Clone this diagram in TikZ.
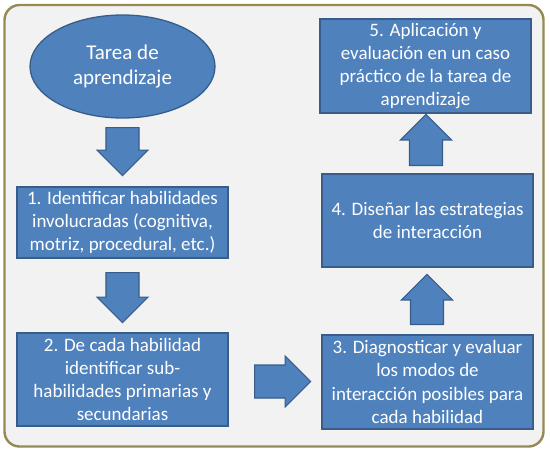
\documentclass[tikz,border=0pt]{standalone}
\usepackage{fontspec}
\setmainfont{Carlito}
\usetikzlibrary{shapes.geometric,shapes.arrows,shadows}
\definecolor{boxblue}{HTML}{4F81BD}
\definecolor{boxedge}{HTML}{385D8A}
\definecolor{frameedge}{HTML}{948A54}
\definecolor{framefill}{HTML}{F2F2F2}
\begin{document}
\begin{tikzpicture}[x=1pt,y=-1pt,
  stepbox/.style={rectangle, draw=boxedge, line width=1.3pt, fill=boxblue,
    text=white, align=center, inner sep=0pt, minimum width=211pt,
    font=\fontsize{19}{23.2}\selectfont,
    drop shadow={shadow xshift=1.2pt, shadow yshift=-1.2pt, opacity=0.25}},
  blockarrow/.style={single arrow, draw=boxedge, line width=1.1pt, fill=boxblue,
    inner xsep=0pt, inner ysep=12.5pt, minimum width=51pt, anchor=tail,
    single arrow tip angle=90}]
\useasboundingbox (0,0) rectangle (550,451);
\fill[white] (0,0) rectangle (550,451);
% outer frame
\draw[frameedge, line width=2.4pt, fill=framefill, rounded corners=15pt]
  (4.5,5) rectangle (543.5,446.5);
% left column
\node[ellipse, draw=boxedge, line width=1.3pt, fill=boxblue, text=white,
  align=center, inner sep=0pt, minimum width=185pt, minimum height=103pt,
  font=\fontsize{21}{25.6}\selectfont] (tarea) at (122.5,66.5)
  {Tarea de\\aprendizaje};
\node[stepbox, minimum height=71pt] (b1) at (122.5,222.5)
  {1. Identificar habilidades\\involucradas (cognitiva,\\motriz, procedural, etc.)};
\node[stepbox, minimum height=93pt] (b2) at (122.5,379.5)
  {2. De cada habilidad\\identificar sub-\\habilidades primarias y\\secundarias};
% right column
\node[stepbox, minimum height=94pt] (b3) at (427.5,382)
  {3. Diagnosticar y evaluar\\los modos de\\interacción posibles para\\cada habilidad};
\node[stepbox, minimum height=93pt] (b4) at (427.5,220.5)
  {4. Diseñar las estrategias\\de interacción};
\node[stepbox, minimum height=94pt] (b5) at (425.5,66)
  {5. Aplicación y\\evaluación en un caso\\práctico de la tarea de\\aprendizaje};
% block arrows
\node[blockarrow, rotate=-90, minimum height=48pt] (a1) at (122.5,127) {};
\node[blockarrow, rotate=-90, minimum height=50pt] (a2) at (122.5,272) {};
\node[blockarrow, minimum height=56pt] (a3) at (254,381.5) {};
\node[blockarrow, rotate=90, minimum height=50pt] (a4) at (427,325) {};
\node[blockarrow, rotate=90, minimum height=51pt] (a5) at (426,166) {};
\end{tikzpicture}
\end{document}
